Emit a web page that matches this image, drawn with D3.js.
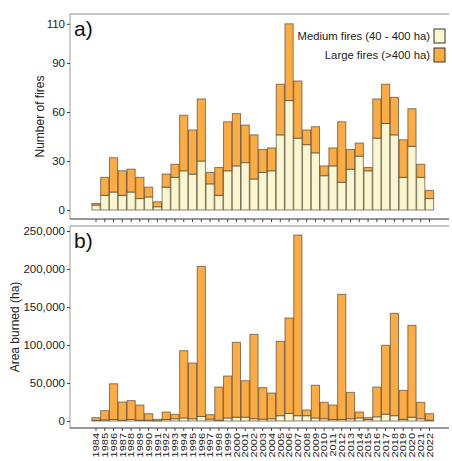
<!DOCTYPE html>
<html><head><meta charset="utf-8">
<script src="https://cdn.jsdelivr.net/npm/d3@7"></script>
<style>body{margin:0;background:#fff}svg{display:block;font-family:"Liberation Sans",Arial,sans-serif}</style>
</head><body><svg id="c" width="452" height="461"></svg>
<script>
const years = d3.range(1984, 2023).map(String);
const mediumFires = [3,9,11,9,11,7,8,2,14,20,24,22,30,16,9,24,27,29,19,23,24,46,67,44,40,35,21,27,17,25,33,24,44,53,46,20,39,20,7];
const largeFires  = [1,11,21,15,14,13,6,3,8,8,34,27,38,7,17,30,32,23,27,14,14,31,47,35,9,16,6,11,37,12,8,2,24,24,23,23,23,8,5];
const mediumArea = [800,1500,2000,1000,2000,1000,1000,300,2000,3000,4000,3000,6000,2500,1000,4000,5000,5000,3000,2500,3000,7000,10000,7000,7000,4000,3000,2000,2000,3000,4000,2000,5500,9000,7000,2000,5000,3000,1000];
const totalArea = [4400,13600,49000,25000,26800,21000,9600,2200,11800,8800,92500,76300,203500,8300,44700,59200,103500,53000,114000,43900,36800,104800,135500,244700,14500,47000,24600,21000,166700,37700,11800,4400,44700,99600,141700,40300,125900,24600,9600];
const largeArea = totalArea.map((t,i)=>t-mediumArea[i]);
const firesTickValues = [0,30,60,90,114];
const firesTickLabels = ["0","30","60","90","110"];
const areaTicks = [0,50000,100000,150000,200000,250000];
const seriesNames = ["Medium fires (40 - 400 ha)","Large fires (>400 ha)"];
const colors = ["#FAF7D0","#FCAC42"];

const svg = d3.select("#c");
const L = 70, R = 449;
const x = d3.scaleBand().domain(years).range([91.6, 433.9]).paddingInner(0.07).paddingOuter(0.035);

function panel(cfg){
  const g = svg.append("g");
  const y = d3.scaleLinear().domain(cfg.domain).range([cfg.base, cfg.top]);
  const rows = years.map((yr,i)=>({yr, m: cfg.med[i], l: cfg.lar[i]}));
  const stack = d3.stack().keys(["m","l"])(rows);
  stack.forEach((s,k)=>{
    g.append("g").selectAll("rect").data(s).join("rect")
      .attr("x", d=>x(d.data.yr)).attr("width", x.bandwidth())
      .attr("y", d=>y(d[1])).attr("height", d=>Math.max(0, y(d[0])-y(d[1])))
      .attr("fill", colors[k]).attr("stroke","#3d3428").attr("stroke-opacity",0.6).attr("stroke-width",1);
  });
  g.append("line").attr("x1",L).attr("x2",R).attr("y1",cfg.top).attr("y2",cfg.top).attr("stroke","#8a8a8a");
  g.append("line").attr("x1",L).attr("x2",L).attr("y1",cfg.top).attr("y2",cfg.axisY).attr("stroke","#9a9a9a");
  g.append("line").attr("x1",L).attr("x2",R).attr("y1",cfg.axisY).attr("y2",cfg.axisY).attr("stroke","#333");
  const ya = d3.axisLeft(y).tickValues(cfg.tickValues).tickSize(3).tickPadding(2)
    .tickFormat((d,i)=>cfg.tickLabels[i]);
  const yg = g.append("g").attr("transform",`translate(${L},0)`).call(ya);
  yg.select(".domain").remove();
  yg.selectAll(".tick line").attr("stroke","#444");
  yg.selectAll("text").attr("font-size",11.5).attr("fill","#222");
  const xa = d3.axisBottom(x).tickSize(3).tickPadding(3);
  const xg = g.append("g").attr("transform",`translate(0,${cfg.axisY})`).call(xa);
  xg.select(".domain").remove();
  xg.selectAll(".tick line").attr("stroke","#444");
  if(cfg.xlabels){
    xg.selectAll("text").attr("font-size",11).attr("fill","#222")
      .attr("transform","rotate(-90) scale(1,0.85)").attr("text-anchor","end")
      .attr("x",-5).attr("y",0).attr("dy","0.35em");
  } else xg.selectAll("text").remove();
  svg.append("text").attr("transform",`translate(${cfg.titleX},${(cfg.top+cfg.axisY)/2}) rotate(-90)`)
    .attr("text-anchor","middle").attr("font-size",12).attr("fill","#222").text(cfg.title);
  svg.append("text").attr("x",74).attr("y",cfg.top+22).attr("font-size",21).attr("fill","#111").text(cfg.tag);
}

panel({domain:[0,120], base:210, top:14, axisY:219, med:mediumFires, lar:largeFires,
  tickValues:firesTickValues, tickLabels:firesTickLabels, title:"Number of fires", titleX:44, tag:"a)", xlabels:false});
panel({domain:[0,256600], base:421, top:226, axisY:428, med:mediumArea, lar:largeArea,
  tickValues:areaTicks, tickLabels:areaTicks.map(d3.format(",")), title:"Area burned (ha)", titleX:19, tag:"b)", xlabels:true});

const lg = svg.append("g");
seriesNames.forEach((n,i)=>{
  const cy = 36 + i*19;
  lg.append("rect").attr("x",434).attr("y",cy-7).attr("width",11).attr("height",14)
    .attr("fill",colors[i]).attr("stroke","#333");
  lg.append("text").attr("x",430).attr("y",cy).attr("dy","0.35em").attr("text-anchor","end")
    .attr("font-size",11.3).attr("fill","#222").text(n);
});
</script></body></html>
